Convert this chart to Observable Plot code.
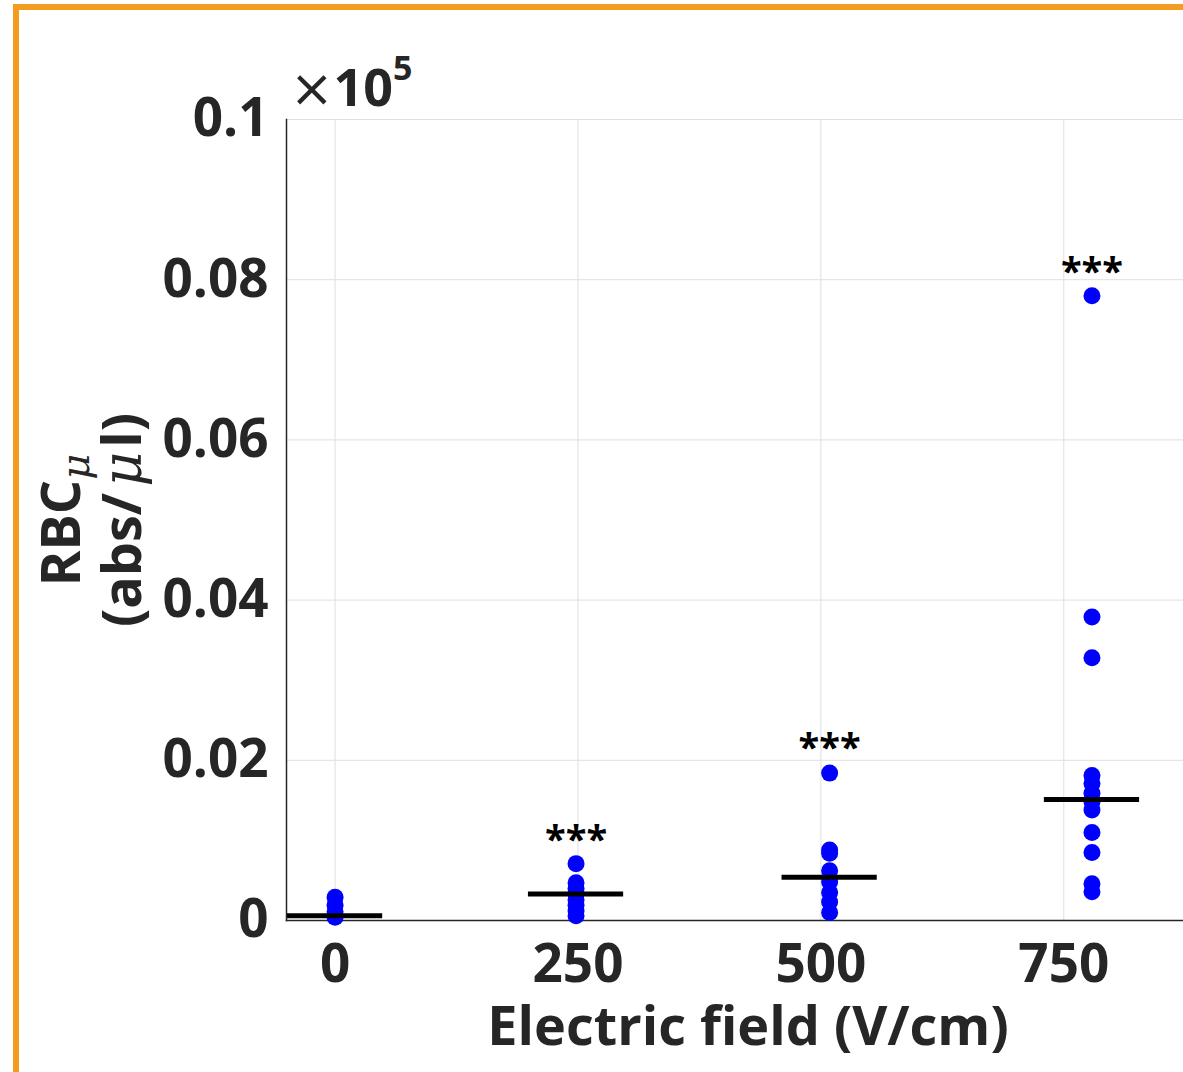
<!DOCTYPE html>
<html><head><meta charset="utf-8">
<script src="https://cdn.jsdelivr.net/npm/d3@7"></script>
<script src="https://cdn.jsdelivr.net/npm/@observablehq/plot@0.6"></script>
<style>
body{margin:0;background:#fff;}
#wrap{position:relative;width:1183px;height:1072px;overflow:hidden;background:#fff;}
#border{position:absolute;left:13px;top:4px;width:1200px;height:1100px;border-left:6px solid #f39c1f;border-top:6px solid #f39c1f;pointer-events:none;}
</style></head><body><div id="wrap"><div id="border"></div></div>
<script>
// Data (values in units of 10^5 abs/µl)
const xTicks = [0, 250, 500, 750];
const yTicks = [0, 0.02, 0.04, 0.06, 0.08, 0.1];
const groupX = [0, 248, 509, 779];
const values0 = [0.0029, 0.0019, 0.0011, 0.0004];
const values250 = [0.0071, 0.0047, 0.0040, 0.0034, 0.0026, 0.0019, 0.0012, 0.0006];
const values500 = [0.0184, 0.0088, 0.0084, 0.0062, 0.0048, 0.0035, 0.0023, 0.0010];
const values750 = [0.0780, 0.0379, 0.0328, 0.0181, 0.0171, 0.0159, 0.0148, 0.0138, 0.0110, 0.0085, 0.0046, 0.0036];
const means = [0.0006, 0.0033, 0.0054, 0.0151];
const starLabels = ["", "***", "***", "***"];
const starY = [0, 0.0110, 0.0224, 0.0819];
const meanHalfWidth = 49;

const allValues = [values0, values250, values500, values750];
const points = allValues.flatMap((vals, i) => vals.map(v => ({x: groupX[i], y: v})));
const meanRows = means.map((m, i) => ({x1: groupX[i] - meanHalfWidth, x2: groupX[i] + meanHalfWidth, y: m}));
const starRows = starLabels.map((s, i) => ({x: groupX[i], y: starY[i], t: s})).filter(d => d.t);

const font = "'Open Sans', 'Noto Sans', sans-serif";
const ink = "#262626";

const plot = Plot.plot({
  width: 1183, height: 1072,
  marginLeft: 286, marginRight: 0, marginTop: 119, marginBottom: 152,
  x: {domain: [-50, 873.2], label: null},
  y: {domain: [0, 0.1], label: null},
  style: {fontFamily: font, fontWeight: "bold", background: "transparent", color: ink},
  marks: [
    Plot.gridX(xTicks, {stroke: "#dfdfdf", strokeOpacity: 1, strokeWidth: 1}),
    Plot.gridY(yTicks, {stroke: "#dfdfdf", strokeOpacity: 1, strokeWidth: 1}),
    Plot.axisX(xTicks, {tickSize: 0, tickPadding: 24, fontSize: 53, fill: ink, tickFormat: d => String(d), label: null}),
    Plot.axisY(yTicks, {tickSize: 0, tickPadding: 18, fontSize: 53, fill: ink, tickFormat: d => d === 0 ? "0" : d3.format("~g")(d), label: null}),
    Plot.frame({anchor: "left", stroke: ink, strokeWidth: 1.5}),
    Plot.frame({anchor: "bottom", stroke: ink, strokeWidth: 1.5}),
    Plot.dot(points, {x: "x", y: "y", r: 8.5, fill: "#0000ff", stroke: "none"}),
    Plot.ruleY(meanRows, {x1: "x1", x2: "x2", y: "y", stroke: "black", strokeWidth: 5}),
    Plot.text(starRows, {x: "x", y: "y", text: "t", fontSize: 38, fontWeight: "bold", fill: "black", lineAnchor: "middle", dy: 8}),
    Plot.text(["Electric field (V/cm)"], {frameAnchor: "bottom", dx: 13, dy: 107, fontSize: 54, fontWeight: "bold", fill: ink, lineAnchor: "middle"})
  ]
});
document.getElementById("wrap").prepend(plot);

// y-axis label with subscript mu, and exponent marker
const svg = d3.select(plot);
const cy = 520;
const l1 = svg.append("text").attr("transform", `translate(80,${cy}) rotate(-90)`)
  .attr("text-anchor", "middle").attr("font-size", 54).attr("font-weight", "bold").attr("fill", ink).attr("font-family", font);
l1.append("tspan").text("RBC");
l1.append("tspan").attr("font-style", "italic").attr("font-weight", "normal").attr("font-family", "'DejaVu Serif', serif").attr("font-size", 40).attr("dy", 9).text("μ");
const l2 = svg.append("text").attr("transform", `translate(141,${cy}) rotate(-90)`)
  .attr("text-anchor", "middle").attr("font-size", 54).attr("font-weight", "bold").attr("fill", ink).attr("font-family", font);
l2.append("tspan").text("(abs/");
l2.append("tspan").attr("font-style", "italic").attr("font-weight", "normal").attr("font-family", "'DejaVu Serif', serif").attr("dx", 6).text("μ");
l2.append("tspan").attr("dx", 4).text("l)");

const ex = svg.append("text").attr("x", 290).attr("y", 106).attr("text-anchor", "start").attr("font-size", 52).attr("fill", ink).attr("font-family", font);
ex.append("tspan").attr("font-weight", "normal").attr("font-family", "'DejaVu Sans', sans-serif").text("×");
ex.append("tspan").attr("font-weight", "bold").text("10");
ex.append("tspan").attr("font-weight", "bold").attr("font-size", 34).attr("dy", -26).text("5");
</script></body></html>
